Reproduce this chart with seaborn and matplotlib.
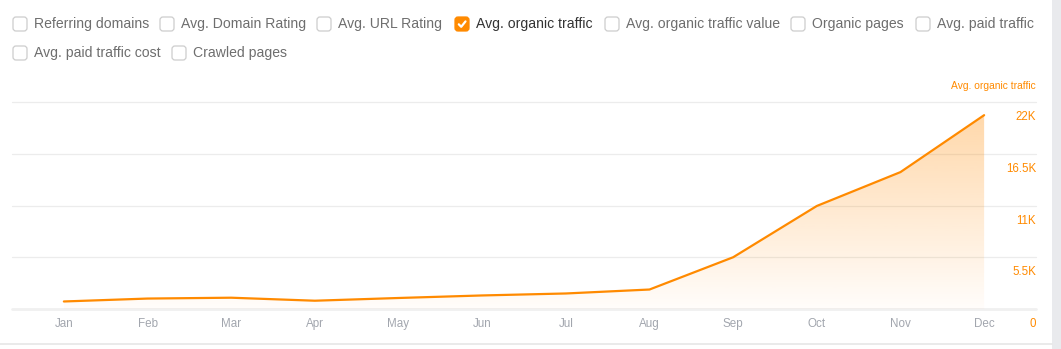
import numpy as np
import pandas as pd
import matplotlib
matplotlib.use("Agg")
import matplotlib.pyplot as plt
import matplotlib.transforms as mtransforms
from matplotlib.patches import FancyBboxPatch, Rectangle
from matplotlib.lines import Line2D
import seaborn as sns

#%% data
months = ["Jan", "Feb", "Mar", "Apr", "May", "Jun",
          "Jul", "Aug", "Sep", "Oct", "Nov", "Dec"]
traffic = [800, 1110, 1200, 880, 1170, 1440,
           1650, 2070, 5500, 10950, 14550, 20600]
y_ticks = [0, 5500, 11000, 16500, 22000]
y_tick_labels = ["0", "5.5K", "11K", "16.5K", "22K"]
series_name = "Avg. organic traffic"

row1_labels = ["Referring domains", "Avg. Domain Rating", "Avg. URL Rating",
               "Avg. organic traffic", "Avg. organic traffic value",
               "Organic pages", "Avg. paid traffic"]
row2_labels = ["Avg. paid traffic cost", "Crawled pages"]
checked = "Avg. organic traffic"

#%% style
sns.set_style("white")
plt.rcParams["font.family"] = ["Liberation Sans", "DejaVu Sans"]

ORANGE = "#ff8a00"
W, H = 1061, 349
fig = plt.figure(figsize=(W / 100, H / 100), dpi=100)
fig.patch.set_facecolor("white")
px = fig.dpi_scale_trans  # 1 unit = 100 px here


def P(v):
    return v / 100


# right gray strip and bottom border
fig.patches.append(Rectangle((P(1052), 0), P(W - 1052), P(H), transform=px,
                             facecolor="#e9eaed", edgecolor="none", zorder=0))
fig.lines.append(Line2D([0, P(1052)], [P(5), P(5)], transform=px,
                        color="#e6e6e6", lw=1.2))

#%% legend checkboxes (layout positions in pixels)
row1_x = [13, 160, 317, 455, 605, 791, 916]
row2_x = [13, 172]
rows = [(row1_labels, row1_x, 24), (row2_labels, row2_x, 53)]
for labels, xs, yc in rows:
    for lab, x0 in zip(labels, xs):
        is_on = lab == checked
        box = FancyBboxPatch((P(x0), P(H - yc - 7)), P(14), P(14),
                             boxstyle="round,pad=0,rounding_size=0.03",
                             transform=px,
                             facecolor=ORANGE if is_on else "white",
                             edgecolor=ORANGE if is_on else "#cdcdcd", lw=0.9)
        fig.patches.append(box)
        if is_on:
            cx = [x0 + 3.8, x0 + 6.2, x0 + 10.5]
            cy = [yc + 0.3, yc + 2.8, yc - 2.6]
            fig.lines.append(Line2D([P(c) for c in cx], [P(H - c) for c in cy],
                                    transform=px, color="white", lw=1.6,
                                    solid_capstyle="round", solid_joinstyle="round"))
        fig.text(P(x0 + 21), P(H - yc), lab, transform=px, fontsize=10.1,
                 va="center", ha="left",
                 color="#333333" if is_on else "#6e6e6e")

#%% chart
ax = fig.add_axes([12 / W, 40 / H, 1024 / W, 207 / H])
ax.set_facecolor("none")
x = np.arange(len(months))
df = pd.DataFrame({"idx": x, "month": months, "traffic": traffic})

# gradient fill under the line
poly = ax.fill_between(df["idx"], df["traffic"], 0, color="none", lw=0)
alpha = np.linspace(0.02, 0.34, 256)[:, None]
grad = np.zeros((256, 1, 4))
grad[..., 0] = 1.0
grad[..., 1] = 138 / 255
grad[..., 2] = 0.0
grad[..., 3] = alpha
im = ax.imshow(grad, extent=[0, 11, 0, 21000], aspect="auto", origin="lower", zorder=1)
im.set_clip_path(poly.get_paths()[0], transform=ax.transData)

sns.lineplot(data=df, x="idx", y="traffic", ax=ax, color=ORANGE, linewidth=1.6, zorder=3)

for v in y_ticks:
    if v == 0:
        ax.axhline(v, color="#f0f0f0", lw=2.0, zorder=0, clip_on=False)
    else:
        ax.axhline(v, color="#ececec", lw=0.9, zorder=0, clip_on=False)

ax.set_xlim(-0.62, 11.62)
ax.set_ylim(0, 22000)
ax.set_xticks(x)
ax.set_xticklabels(months)
ax.tick_params(axis="x", length=0, pad=6.3, labelsize=8.4, labelcolor="#a2a6ae")
ax.set_yticks([])
ax.set_xlabel("")
ax.set_ylabel("")
for s in ax.spines.values():
    s.set_visible(False)

# right side value labels, sitting just below their gridlines
lab_trans = mtransforms.blended_transform_factory(ax.transAxes, ax.transData) + \
    mtransforms.ScaledTranslation(0, -15 / 100, fig.dpi_scale_trans)
for v, lab in zip(y_ticks, y_tick_labels):
    ax.text(1.0, v, lab, transform=lab_trans, ha="right", va="center",
            fontsize=8.3, color=ORANGE, clip_on=False)

ax.text(1.0, 1.0, series_name, ha="right", va="center", fontsize=7.4, color=ORANGE,
        transform=ax.transAxes + mtransforms.ScaledTranslation(0, 16 / 100, fig.dpi_scale_trans))

fig.savefig("out.png", dpi=100)
